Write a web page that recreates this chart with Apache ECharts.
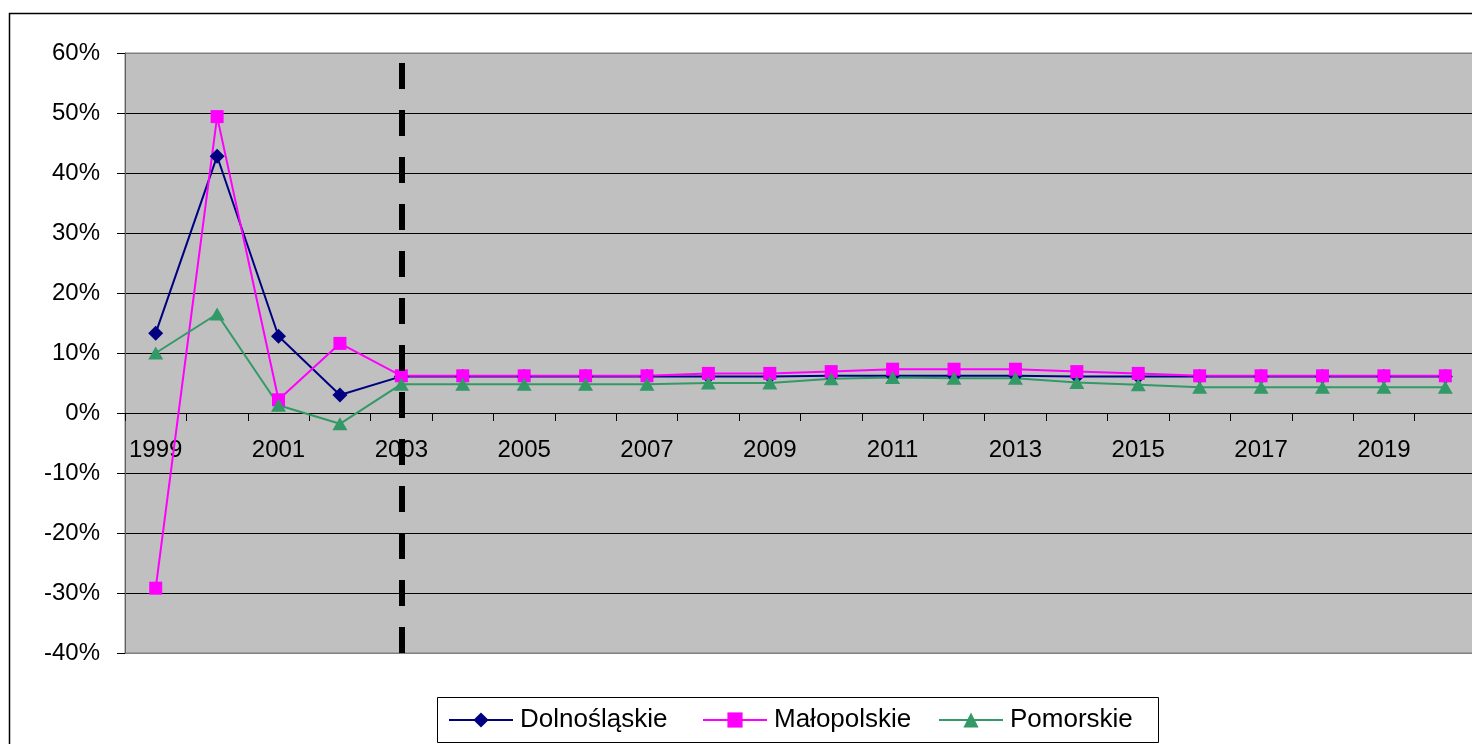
<!DOCTYPE html>
<html>
<head>
<meta charset="utf-8">
<script src="https://cdn.jsdelivr.net/npm/echarts@6/dist/echarts.min.js"></script>
<style>
html,body{margin:0;padding:0;background:#fff;}
#c{width:1472px;height:744px;}
</style>
</head>
<body>
<div id="c"></div>
<script>
const years = ['1999','2000','2001','2002','2003','2004','2005','2006','2007','2008','2009','2010','2011','2012','2013','2014','2015','2016','2017','2018','2019','2020'];
const dolnoslaskie = [13.3, 42.8, 12.8, 3.0, 6.1, 6.1, 6.1, 6.1, 6.1, 6.1, 6.1, 6.2, 6.2, 6.2, 6.2, 6.1, 6.1, 6.1, 6.1, 6.1, 6.1, 6.1];
const malopolskie = [-29.2, 49.4, 2.2, 11.6, 6.2, 6.2, 6.2, 6.2, 6.2, 6.6, 6.6, 6.9, 7.3, 7.3, 7.3, 6.9, 6.6, 6.2, 6.2, 6.2, 6.2, 6.2];
const pomorskie = [10.0, 16.5, 1.3, -1.8, 4.8, 4.8, 4.8, 4.8, 4.8, 5.0, 5.0, 5.7, 5.9, 5.8, 5.8, 5.1, 4.7, 4.3, 4.3, 4.3, 4.3, 4.3];
const seriesNames = ['Dolnośląskie', 'Małopolskie', 'Pomorskie'];
const dividerYear = '2003';

const FONT = '"Liberation Sans", Arial, sans-serif';
const chart = echarts.init(document.getElementById('c'), null, {renderer: 'canvas'});

const splitColors = ['#808080','#000','#000','#000','#000','#000','#000','#000','#000','#000','#808080'];

function legendFor(name, left) {
  return {
    data: [name], left: left, top: 707, orient: 'horizontal',
    itemWidth: 64, itemHeight: 19, itemGap: 0, padding: 0,
    textStyle: {fontFamily: FONT, fontSize: 26, color: '#000', padding: [0, 0, 0, 2]},
    selectedMode: false
  };
}

chart.setOption({
  animation: false,
  backgroundColor: '#fff',
  graphic: [
    {type: 'rect', left: 7, top: 11, shape: {width: 1520, height: 800}, style: {fill: 'none', stroke: '#000', lineWidth: 1.5}, z: -10, silent: true},
    {type: 'rect', left: 437, top: 697, shape: {width: 721, height: 45}, style: {fill: '#fff', stroke: '#000', lineWidth: 1}, z: -5, silent: true}
  ],
  grid: {left: 125, top: 53, width: 1351, height: 600, show: true, backgroundColor: '#C0C0C0', borderColor: '#808080', borderWidth: 1, containLabel: false, outerBoundsMode: 'none'},
  legend: [legendFor(seriesNames[0], 448), legendFor(seriesNames[1], 702), legendFor(seriesNames[2], 938)],
  xAxis: {
    type: 'category', data: years, boundaryGap: true,
    offset: -240,
    axisLine: {onZero: false, lineStyle: {color: '#000', width: 1}},
    axisTick: {show: true, interval: 0, length: 8, alignWithLabel: false, lineStyle: {color: '#000'}},
    axisLabel: {interval: 1, margin: 25, fontFamily: FONT, fontSize: 24, color: '#000'},
    splitLine: {show: false}
  },
  yAxis: {
    type: 'value', min: -40, max: 60, interval: 10,
    axisLine: {show: true, lineStyle: {color: '#606060', width: 1}},
    axisTick: {show: true, length: 8, lineStyle: {color: '#000'}},
    axisLabel: {formatter: '{value}%', margin: 25, fontFamily: FONT, fontSize: 24, color: '#000'},
    splitLine: {show: true, lineStyle: {color: splitColors, width: 1}}
  },
  series: [
    {
      name: seriesNames[0], type: 'line', data: dolnoslaskie,
      symbol: 'diamond', symbolSize: [15, 15],
      lineStyle: {color: '#000080', width: 2},
      itemStyle: {color: '#000080'},
      markLine: {
        silent: true, symbol: ['none', 'none'], label: {show: false},
        lineStyle: {color: '#000', width: 6, type: [26, 21]},
        data: [{xAxis: dividerYear}]
      }
    },
    {
      name: seriesNames[1], type: 'line', data: malopolskie,
      symbol: 'rect', symbolSize: [13, 13],
      lineStyle: {color: '#FF00FF', width: 2},
      itemStyle: {color: '#FF00FF'}
    },
    {
      name: seriesNames[2], type: 'line', data: pomorskie,
      symbol: 'triangle', symbolSize: [15, 13],
      lineStyle: {color: '#339966', width: 2},
      itemStyle: {color: '#339966'}
    }
  ]
});
</script>
</body>
</html>
